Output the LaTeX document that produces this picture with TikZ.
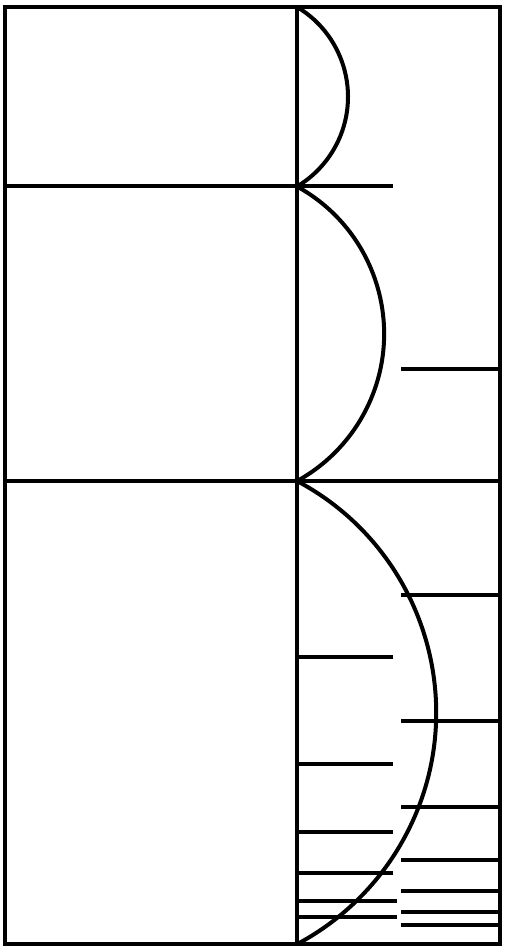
\documentclass[tikz,border=0pt]{standalone}
\begin{document}
\begin{tikzpicture}[x=1pt,y=1pt,
  ln/.style={line width=4pt,line cap=butt},
  frame/.style={line width=4pt,line join=miter}]
\useasboundingbox (0,0) rectangle (506,949);
% frame and divider
\coordinate (tl) at (5,942);
\coordinate (br) at (500,5);
\coordinate (vt) at (297,942);
\coordinate (vb) at (297,5);
\draw[frame] (tl) rectangle (br);
\draw[ln] (vt) -- (vb);
% main horizontals
\coordinate (h1a) at (5,762.5); \coordinate (h1b) at (393,762.5);
\coordinate (h2a) at (5,468);   \coordinate (h2b) at (500,468);
\draw[ln] (h1a) -- (h1b);
\draw[ln] (h2a) -- (h2b);
% arcs
\draw[ln] (vt) arc[start angle=59.2,end angle=-59.2,radius=104.5];
\draw[ln] (297,762.5) arc[start angle=61.2,end angle=-61.2,radius=168.1];
\draw[ln] (297,468) arc[start angle=62.0,end angle=-62.0,radius=262.3];
% right short lines
\foreach \Y in {579.7,354.3,227.5,142.3,89,58.3,37,24}
  \draw[ln] (401,\Y) -- (500,\Y);
% left short lines
\foreach \Y/\E in {292/393,185/393,116.5/393,76/393,48.3/397,32/397}
  \draw[ln] (297,\Y) -- (\E,\Y);
\end{tikzpicture}
\end{document}
